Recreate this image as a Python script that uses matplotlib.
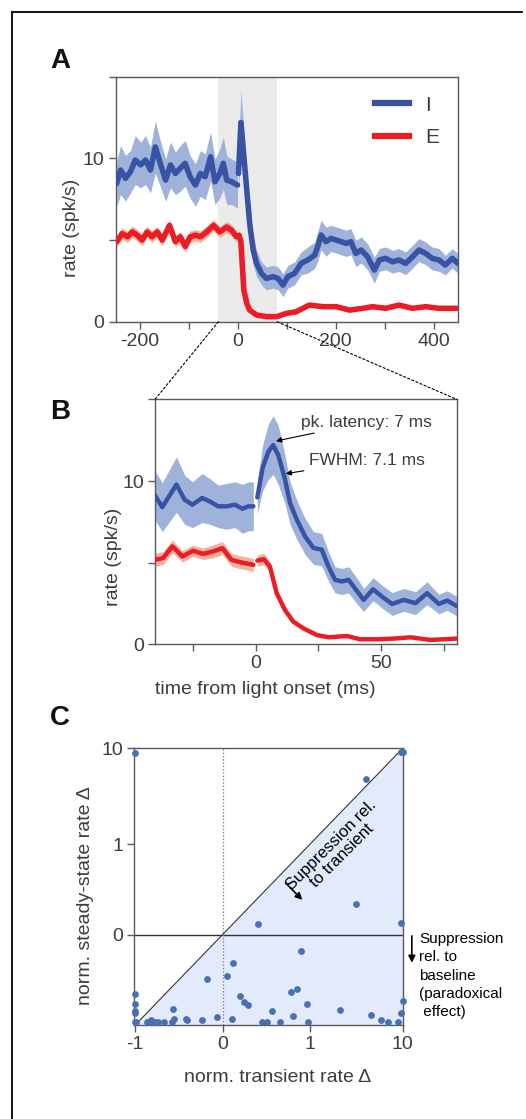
import numpy as np
import matplotlib
matplotlib.use('Agg')
import matplotlib.pyplot as plt
from matplotlib.patches import ConnectionPatch
from matplotlib.lines import Line2D

plt.rcParams['font.family'] = ['Liberation Sans', 'DejaVu Sans']
plt.rcParams['font.size'] = 14

# ---- panel A: population rates (I and E), wide window ----
tA_I_pre = [-248, -240, -230, -220, -210, -199, -189, -179, -169, -159, -148, -138, -128,
            -118, -108, -98, -87, -77, -67, -56, -47, -37, -30, -23, -13, -1]
rA_I_pre = [8.47, 9.29, 8.78, 9.18, 9.9, 9.6, 9.9, 9.29, 10.7, 9.7, 8.67, 9.6, 9.08,
            9.39, 9.7, 8.88, 8.37, 9.08, 8.88, 10.1, 8.57, 9.08, 9.7, 8.67, 8.57, 8.37]
eA_I_pre = [1.4, 1.5, 1.4, 1.3, 1.5, 1.4, 1.5, 1.4, 1.6, 1.4, 1.3, 1.4, 1.3,
            1.4, 1.4, 1.3, 1.3, 1.4, 1.4, 1.5, 1.4, 1.5, 1.6, 1.5, 1.4, 1.4]
tA_I_post = [1, 6, 11, 18, 24, 31, 38, 48, 58, 72, 82, 92, 102, 116, 129, 143, 157, 163, 170, 180,
             190, 201, 211, 221, 231, 241, 252, 265, 279, 289, 302, 316, 329, 343, 357, 370,
             384, 397, 411, 424, 438, 450]
rA_I_post = [9.08, 12.2, 10.5, 8.06, 6.0, 4.4, 3.57, 2.96, 2.65, 2.76, 2.65, 2.24, 2.76, 2.96,
             3.57, 3.78, 4.08, 4.59, 5.31, 4.9, 5.1, 5.0, 4.9, 4.8, 4.9, 4.18, 4.39, 3.98, 3.16,
             3.78, 3.88, 3.67, 3.78, 3.57, 3.98, 4.39, 4.18, 3.88, 3.78, 3.47, 3.88, 3.57]
eA_I_post = [1.2, 2.0, 1.6, 1.2, 1.0, 0.9, 0.8, 0.7, 0.7, 0.7, 0.7, 0.7, 0.7, 0.7,
             0.7, 0.8, 0.8, 0.9, 0.9, 0.9, 0.8, 0.8, 0.8, 0.8, 0.8, 0.8, 0.8, 0.8, 0.8,
             0.7, 0.7, 0.7, 0.7, 0.7, 0.7, 0.7, 0.7, 0.7, 0.7, 0.6, 0.6, 0.6]

tA_E_pre = [-248, -237, -226, -216, -206, -196, -186, -176, -165, -155, -140, -128, -118,
            -108, -98, -87, -77, -64, -50, -37, -23, -13, -3]
rA_E_pre = [4.9, 5.4, 5.2, 5.5, 5.3, 5.0, 5.5, 5.2, 5.5, 5.0, 5.9, 4.9, 5.2,
            4.6, 5.2, 5.3, 5.2, 5.5, 5.9, 5.5, 5.8, 5.6, 5.2]
eA_E_pre = [0.35] * 23
tA_E_post = [2, 6, 9, 12, 18, 24, 38, 58, 79, 99, 119, 146, 174, 201, 228, 255, 275, 302,
             329, 357, 384, 411, 450]
rA_E_post = [5.3, 4.9, 3.37, 1.94, 1.12, 0.71, 0.41, 0.31, 0.31, 0.51, 0.61, 1.02, 0.92, 0.92,
             0.71, 0.82, 0.92, 0.82, 1.02, 0.82, 0.92, 0.82, 0.82]
eA_E_post = [0.35, 0.3, 0.25, 0.2, 0.15, 0.1, 0.1, 0.1, 0.1, 0.1, 0.1, 0.1, 0.1, 0.1,
             0.1, 0.1, 0.1, 0.1, 0.1, 0.1, 0.1, 0.1, 0.1]

# ---- panel B: zoom around light onset ----
tB_I_pre = [-40.2, -37.1, -31.5, -28.2, -25.1, -21.3, -18.2, -14.9, -11.6, -8.2, -5.2, -2.9, -0.9]
rB_I_pre = [9.16, 8.40, 9.78, 8.85, 8.55, 8.96, 8.75, 8.45, 8.45, 8.55, 8.30, 8.45, 8.45]
eB_I_pre = [1.5, 1.5, 1.7, 1.5, 1.4, 1.5, 1.4, 1.3, 1.4, 1.4, 1.5, 1.5, 1.5]
tB_I_post = [0.7, 2.8, 5.1, 7.0, 9.0, 11.7, 13.7, 16.4, 19.7, 23.0, 26.3, 29.0, 31.6, 34.3, 37.0,
             40.0, 43.0, 46.7, 50.3, 54.3, 58.9, 63.6, 68.2, 72.9, 76.2, 79.9]
rB_I_post = [9.0, 10.8, 11.8, 12.2, 11.6, 10.1, 8.65, 7.63, 6.6, 5.9, 5.8, 4.76, 3.95, 3.85, 3.95,
             3.33, 2.72, 3.37, 2.92, 2.47, 2.72, 2.52, 3.13, 2.47, 2.68, 2.35]
eB_I_post = [1.0, 1.4, 1.7, 1.8, 1.8, 1.5, 1.3, 1.2, 1.1, 1.0, 1.0, 0.9, 0.8, 0.8, 0.8,
             0.8, 0.7, 0.7, 0.7, 0.7, 0.7, 0.7, 0.7, 0.6, 0.6, 0.6]

tB_E_pre = [-40.2, -36.8, -33.1, -29.1, -24.9, -20.9, -16.9, -13.2, -9.6, -5.6, -0.9]
rB_E_pre = [5.17, 5.28, 6.0, 5.38, 5.73, 5.54, 5.69, 5.89, 5.17, 5.01, 4.87]
eB_E_pre = [0.4, 0.4, 0.4, 0.35, 0.35, 0.35, 0.4, 0.4, 0.4, 0.4, 0.4]
tB_E_post = [0.7, 3.3, 5.7, 8.4, 11.7, 15.0, 19.0, 24.3, 29.0, 36.3, 41.6, 48.3, 54.9, 61.6, 69.5, 79.9]
rB_E_post = [5.13, 5.21, 4.76, 3.13, 2.1, 1.39, 0.98, 0.57, 0.43, 0.51, 0.31, 0.31, 0.35, 0.43, 0.27, 0.35]
eB_E_post = [0.35, 0.35, 0.3, 0.2, 0.15, 0.1, 0.08, 0.06, 0.05, 0.05, 0.05, 0.05, 0.05, 0.05, 0.05, 0.05]

# ---- panel C: per-cell normalised changes ----
transient = [-1.0, 9.6, 10.0, 4.0, 3.15, 0.40, 9.7, 0.90, 0.115, -0.18, 0.046, -1.0, 0.785,
             0.85, 0.20, 0.245, 0.29, 0.965, -1.0, -1.0, -1.0, -0.57, 2.08, 10.0, 9.6, 4.58,
             0.56, 0.81, -0.07, -0.42, -0.41, -0.24, 0.107, -0.555, 5.8, -0.82,
             -1.0, -0.99, -0.87, -0.83, -0.77, -0.74, -0.67, -0.58, 0.45, 0.51, 0.655, 0.977,
             7.0, 9.0]
steady = [9.0, 9.2, 9.2, 4.8, 0.34, 0.12, 0.13, -0.18, -0.32, -0.49, -0.46, -0.66, -0.64,
          -0.60, -0.68, -0.745, -0.775, -0.77, -0.77, -0.85, -0.865, -0.82, -0.836, -0.74, -0.87,
          -0.89, -0.85, -0.905, -0.91, -0.93, -0.95, -0.95, -0.935, -0.93, -0.945, -0.945,
          -0.97, -0.97, -0.97, -0.97, -0.97, -0.97, -0.97, -0.97, -0.97, -0.97, -0.97, -0.97,
          -0.97, -0.97]

blue = '#3953a4'
blue_band = '#9fb3da'
red = '#ec1c24'
red_band = '#f2b39c'
txt = '#3d3d3d'
spine = '#5a5a5a'

fig = plt.figure(figsize=(5.26, 11.19), dpi=100)


def style(ax):
    for s in ax.spines.values():
        s.set_color(spine)
        s.set_linewidth(1.0)
    ax.tick_params(direction='out', length=5, width=1, color=spine, labelcolor=txt,
                   labelsize=14, pad=3)


def trace(ax, t, r, e, col, band, lw):
    t = np.array(t); r = np.array(r); e = np.array(e)
    ax.fill_between(t, r - e, r + e, color=band, lw=0, zorder=2)
    return ax.plot(t, r, color=col, lw=lw, solid_capstyle='round',
                   solid_joinstyle='round', zorder=3)


# Panel A
axA = fig.add_axes([0.2200, 0.7125, 0.6508, 0.2189])
style(axA)
axA.axvspan(-40, 80, color='#ebebeb', lw=0, zorder=0)
trace(axA, tA_I_pre, rA_I_pre, eA_I_pre, blue, blue_band, 4.0)
trace(axA, tA_I_post, rA_I_post, eA_I_post, blue, blue_band, 4.0)
trace(axA, tA_E_pre, rA_E_pre, eA_E_pre, red, red_band, 4.0)
trace(axA, tA_E_post, rA_E_post, eA_E_post, red, red_band, 4.0)
axA.set_xlim(-250, 450)
axA.set_ylim(0, 15)
axA.set_xticks(np.arange(-200, 401, 100))
axA.set_xticklabels(['-200', '', '0', '', '200', '', '400'])
axA.set_yticks([0, 5, 10, 15])
axA.set_yticklabels(['0', '', '10', ''])
axA.set_ylabel('rate (spk/s)', color=txt, fontsize=14)
axA.yaxis.set_label_coords(-0.105, 0.385)
leg = axA.legend([Line2D([], [], color=blue, lw=4.5), Line2D([], [], color=red, lw=4.5)],
                 ['I', 'E'], loc='upper right', frameon=False, fontsize=15,
                 handlelength=1.6, labelspacing=0.65, bbox_to_anchor=(1.0, 1.0))
for t in leg.get_texts():
    t.set_color(txt)

# Panel B
axB = fig.add_axes([0.2947, 0.4242, 0.5736, 0.2189])
style(axB)
trace(axB, tB_I_pre, rB_I_pre, eB_I_pre, blue, blue_band, 3.2)
trace(axB, tB_I_post, rB_I_post, eB_I_post, blue, blue_band, 3.2)
trace(axB, tB_E_pre, rB_E_pre, eB_E_pre, red, red_band, 3.2)
trace(axB, tB_E_post, rB_E_post, eB_E_post, red, red_band, 3.2)
axB.set_xlim(-40, 80)
axB.set_ylim(0, 15)
axB.set_xticks([-25, 0, 25, 50, 75])
axB.set_xticklabels(['', '0', '', '50', ''])
axB.set_yticks([0, 5, 10, 15])
axB.set_yticklabels(['0', '', '10', ''])
axB.set_ylabel('rate (spk/s)', color=txt, fontsize=14)
axB.yaxis.set_label_coords(-0.11, 0.357)
axB.set_xlabel('time from light onset (ms)', color=txt, fontsize=14)
axB.xaxis.set_label_coords(0.364, -0.15)
axB.annotate('pk. latency: 7 ms', xy=(8.1, 12.45), xytext=(18.1, 13.6),
             fontsize=12.5, color=txt, va='center', ha='left',
             arrowprops=dict(arrowstyle='-|>', color='black', lw=0.8,
                             mutation_scale=8, shrinkA=2, shrinkB=0))
axB.annotate('FWHM: 7.1 ms', xy=(12.0, 10.45), xytext=(21.4, 11.25),
             fontsize=12.5, color=txt, va='center', ha='left',
             arrowprops=dict(arrowstyle='-|>', color='black', lw=0.8,
                             mutation_scale=8, shrinkA=2, shrinkB=0))

# zoom connectors A -> B
for xa, xb in [(-40, 0.0), (80, 1.0)]:
    con = ConnectionPatch(xyA=(xa, 0), coordsA=axA.transData,
                          xyB=(xb, 1.0), coordsB=axB.transAxes,
                          color='black', lw=0.8, linestyle=(0, (2, 2)))
    fig.add_artist(con)

# Panel C
axC = fig.add_axes([0.2553, 0.0840, 0.5103, 0.2473])
style(axC)
axC.set_xscale('symlog', linthresh=1, linscale=0.85)
axC.set_yscale('symlog', linthresh=1, linscale=0.85)
diag = np.array([-1.0, 0.0, 1.0, 10.0])
axC.fill_between(diag, -1, diag, color='#e2ebfb', lw=0, zorder=0)
axC.plot(diag, diag, color='#333333', lw=0.8, zorder=1)
axC.axhline(0, color='#333333', lw=1.0, zorder=1)
axC.axvline(0, color='#777777', lw=0.9, ls=':', zorder=1)
axC.scatter(transient, steady, s=24, color='#4a6fb5', zorder=4, clip_on=False, lw=0)
axC.set_xlim(-1.023, 10)
axC.set_ylim(-1, 10)
axC.set_xticks([-1, 0, 1, 10])
axC.set_xticklabels(['-1', '0', '1', '10'])
axC.set_yticks([0, 1, 10])
axC.set_yticklabels(['0', '1', '10'])
axC.xaxis.set_minor_locator(matplotlib.ticker.NullLocator())
axC.yaxis.set_minor_locator(matplotlib.ticker.NullLocator())
axC.set_xlabel('norm. transient rate Δ', color=txt, fontsize=14)
axC.xaxis.set_label_coords(0.535, -0.16)
axC.set_ylabel('norm. steady-state rate Δ', color=txt, fontsize=14)
axC.yaxis.set_label_coords(-0.15, 0.466)
axC.text(0.755, 0.63, 'Suppression rel.\nto transient', transform=axC.transAxes,
         rotation=45, ha='center', va='center', fontsize=12, color='black',
         rotation_mode='anchor', linespacing=1.0)
axC.annotate('', xy=(0.626, 0.452), xytext=(0.565, 0.512), xycoords='axes fraction',
             arrowprops=dict(arrowstyle='-|>', color='black', lw=1.2, mutation_scale=10,
                             shrinkA=0, shrinkB=0))
axC.annotate('', xy=(1.034, 0.225), xytext=(1.034, 0.322), xycoords='axes fraction',
             arrowprops=dict(arrowstyle='-|>', color='black', lw=1.2, mutation_scale=10,
                             shrinkA=0, shrinkB=0), annotation_clip=False)
axC.text(1.062, 0.335, 'Suppression\nrel. to\nbaseline\n(paradoxical\n effect)',
         transform=axC.transAxes, ha='left', va='top', fontsize=11, color='black',
         linespacing=1.38)

# panel letters
for lab, y in [('A', 61), ('B', 412), ('C', 718)]:
    fig.text(60 / 526, 1 - y / 1119, lab, fontsize=20, fontweight='bold',
             ha='center', va='center', color='#111111')

# frame around the figure (cut at right and bottom)
fig.add_artist(Line2D([11.5 / 526, 522 / 526], [1 - 11.5 / 1119, 1 - 11.5 / 1119],
                      color='black', lw=1.3))
fig.add_artist(Line2D([11.5 / 526, 11.5 / 526], [1 - 11.5 / 1119, 0],
                      color='black', lw=1.3))

fig.savefig('out.png', dpi=100)
